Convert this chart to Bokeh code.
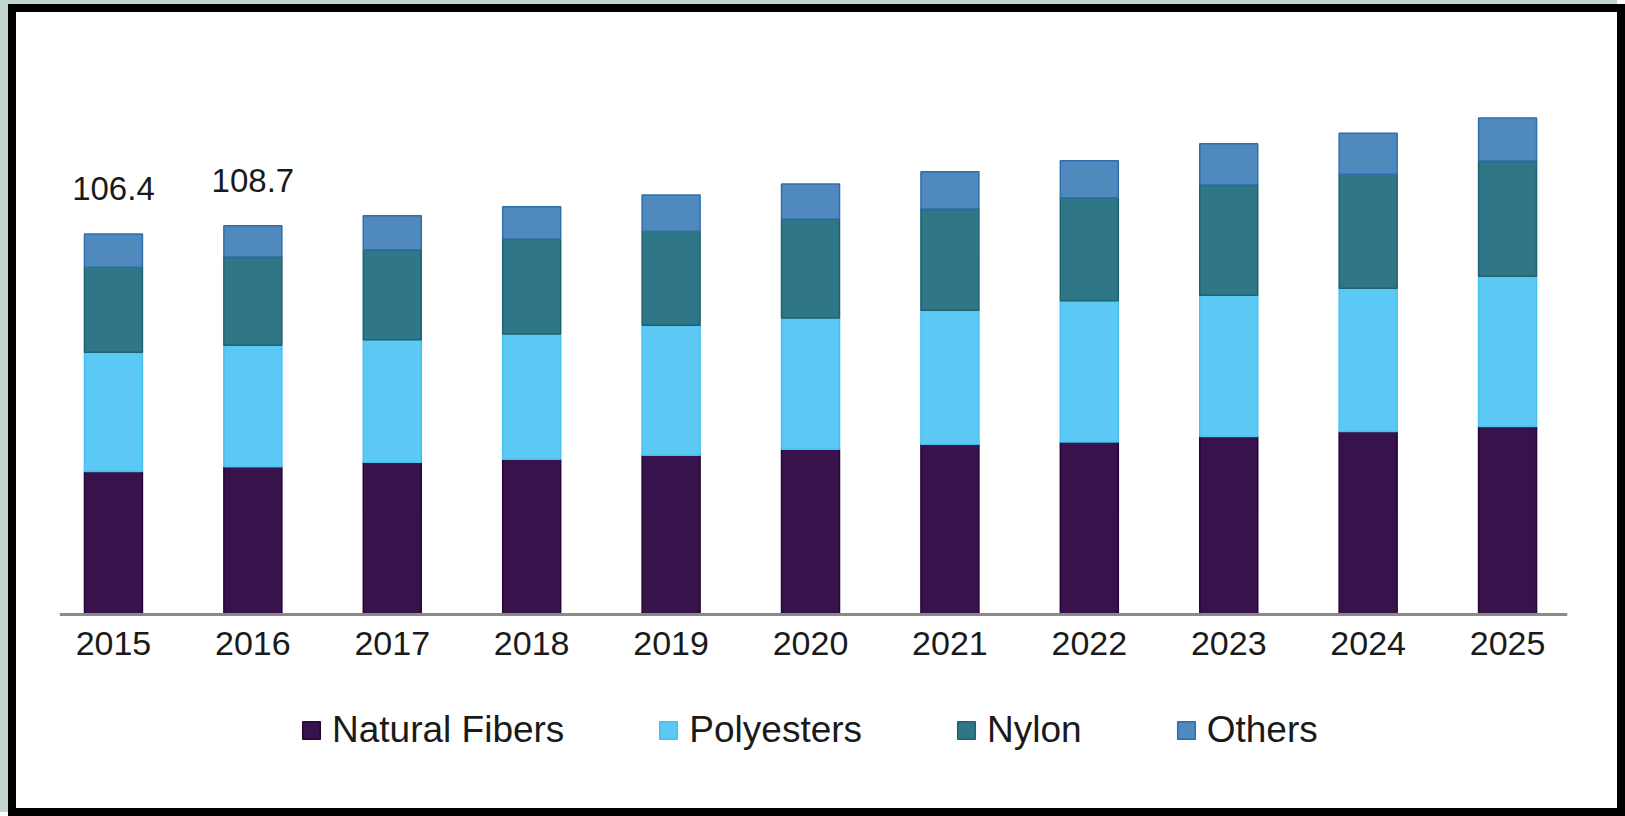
from bokeh.plotting import figure
from bokeh.models import Range1d, FixedTicker, Legend, LegendItem, ColumnDataSource
from bokeh.core.properties import value
from bokeh.embed import file_html
from bokeh.resources import INLINE

# ---- data ----
years = ["2015", "2016", "2017", "2018", "2019", "2020", "2021", "2022", "2023", "2024", "2025"]
natural_fibers = [40.0, 41.3, 42.6, 43.4, 44.5, 46.2, 47.6, 48.2, 49.8, 51.2, 52.6]
polyesters = [33.3, 34.0, 34.2, 35.0, 36.4, 36.7, 37.5, 39.5, 39.5, 40.0, 42.0]
nylon = [23.8, 24.7, 25.2, 26.6, 26.3, 27.7, 28.3, 28.8, 30.8, 31.9, 32.2]
others = [9.3, 8.7, 9.5, 9.0, 10.1, 9.8, 10.4, 10.4, 11.5, 11.5, 12.0]
series = ["Natural Fibers", "Polyesters", "Nylon", "Others"]
label_years = ["2015", "2016"]
label_values = [106.4, 108.7]

fills = ["#38124A", "#5CC9F5", "#2F7687", "#4F89BD"]
lines = ["#26063A", "#45C0F0", "#1E6272", "#2F6EAE"]

idx = list(range(len(years)))
src = ColumnDataSource(dict(x=idx, **{
    "Natural Fibers": natural_fibers,
    "Polyesters": polyesters,
    "Nylon": nylon,
    "Others": others,
}))

p = figure(width=1617, height=812, output_backend="svg", toolbar_location=None,
           x_range=Range1d(-0.387, 10.43), y_range=Range1d(-39.15, 149.32),
           y_axis_location=None,
           min_border_left=43, min_border_right=66, min_border_top=68, min_border_bottom=70)
p.styles = {"border": "8px solid black", "margin-left": "8px", "margin-top": "4px",
            "overflow": "hidden", "box-shadow": "-8px -4px 0 0 #c2d6cf"}
p.outline_line_color = None
p.grid.visible = False
p.background_fill_color = "white"
p.border_fill_color = "white"

rs = p.vbar_stack(series, x="x", width=0.416, source=src,
                  fill_color=fills, line_color=lines, line_width=1.5)

# value labels above first two bars
lab_x = [years.index(y) for y in label_years]
p.text(x=lab_x, y=label_values, text=[f"{v:.1f}" for v in label_values],
       text_align="center", text_baseline="alphabetic", y_offset=-45,
       text_font=value("Liberation Sans"), text_font_size="33px", text_color="#1a1a1a")

ax = p.xaxis[0]
ax.fixed_location = 0
ax.ticker = FixedTicker(ticks=idx)
ax.major_label_overrides = {i: y for i, y in zip(idx, years)}
ax.major_tick_line_color = None
ax.minor_tick_line_color = None
ax.axis_line_color = "#8a8a8a"
ax.axis_line_width = 3
ax.major_label_text_font = "Liberation Sans"
ax.major_label_text_font_size = "34px"
ax.major_label_text_color = "#1a1a1a"
ax.major_label_standoff = 12

legend = Legend(items=[LegendItem(label=s, renderers=[r]) for s, r in zip(series, rs)],
                orientation="horizontal", location=(241, 3),
                glyph_width=22, glyph_height=22, label_standoff=10, spacing=93,
                label_text_font="Liberation Sans", label_text_font_size="37px",
                label_text_color="#1a1a1a", border_line_color=None,
                background_fill_alpha=0, padding=0, margin=0)
p.add_layout(legend, "center")

open("out.html", "w").write(file_html(p, INLINE))
